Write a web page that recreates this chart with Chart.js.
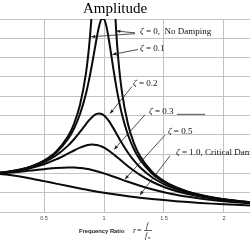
<!DOCTYPE html>
<html><head><meta charset="utf-8">
<script src="https://cdn.jsdelivr.net/npm/chart.js@4/dist/chart.umd.min.js"></script>
<style>html,body{margin:0;padding:0;background:#fff}</style>
</head><body><canvas id="c" width="250" height="250"></canvas>
<script>
// ---- data (frequency ratio r vs amplitude) ----
const rFine = [0.13,0.2,0.3,0.4,0.5,0.6,0.7,0.75,0.8,0.85,0.88,0.9,0.92,0.94,0.96,0.98,1.0,1.02,1.04,1.06,1.08,1.1,1.12,1.15,1.2,1.25,1.3,1.4,1.5,1.6,1.7,1.8,1.9,2.0,2.1,2.22];
const amp01 = [1.017,1.041,1.097,1.185,1.322,1.536,1.891,2.162,2.538,3.073,3.495,3.821,4.172,4.522,4.822,5.001,5.0,4.809,4.476,4.075,3.668,3.288,2.950,2.525,1.995,1.625,1.356,1.0,0.778,0.628,0.521,0.441,0.379,0.330,0.291,0.253];
const amp02 = [1.016,1.038,1.090,1.170,1.288,1.463,1.719,1.885,2.076,2.279,2.392,2.457,2.508,2.541,2.552,2.538,2.5,2.439,2.359,2.264,2.160,2.051,1.941,1.780,1.536,1.329,1.157,0.900,0.721,0.593,0.498,0.425,0.368,0.322,0.285,0.248];
const amp03 = [1.014,1.034,1.078,1.145,1.238,1.362,1.514,1.593,1.667,1.722,1.742,1.747,1.745,1.737,1.720,1.697,1.667,1.630,1.589,1.543,1.495,1.444,1.392,1.313,1.185,1.067,0.960,0.784,0.649,0.546,0.466,0.402,0.351,0.310,0.275,0.241];
const rCoarse = [0.13,0.2,0.3,0.4,0.5,0.6,0.7,0.75,0.8,0.85,0.9,1.0,1.1,1.2,1.3,1.4,1.5,1.6,1.7,1.8,1.9,2.0,2.1,2.22];
const amp05 = [1.008,1.020,1.044,1.075,1.109,1.140,1.155,1.152,1.140,1.118,1.087,1.0,0.893,0.782,0.680,0.589,0.512,0.448,0.393,0.348,0.310,0.277,0.250,0.222];
const amp10 = [0.983,0.962,0.917,0.862,0.8,0.735,0.671,0.64,0.610,0.581,0.552,0.5,0.452,0.410,0.372,0.338,0.308,0.281,0.257,0.236,0.217,0.2,0.185,0.169];
const rLeft0 = [0.13,0.2,0.3,0.4,0.5,0.6,0.7,0.75,0.8,0.85,0.88,0.9,0.92];
const amp0Left = [1.017,1.042,1.099,1.190,1.333,1.563,1.961,2.286,2.778,3.604,4.433,5.263,6.51];
const rRight0 = [1.08,1.1,1.12,1.15,1.2,1.25,1.3,1.4,1.5,1.6,1.7,1.8,1.9,2.0,2.1,2.22];
const amp0Right = [6.01,4.762,3.931,3.100,2.273,1.778,1.449,1.042,0.8,0.641,0.529,0.446,0.383,0.333,0.293,0.255];

const xTickValues = [0.5,1,1.5,2];
const xTickLabels = ['0.5','1','1.5','2'];
const yTickValues = [0,0.5,1,1.5,2,2.5,3,3.5,4,4.5,5];
const titleText = 'Amplitude';
const xTitleText = 'Frequency Ratio';

// annotation labels: text after zeta, label anchor (r, amp), leader start, arrow tips
const annLabels = [' = 0,  No Damping',' = 0.1',' = 0.2',' = 0.3',' = 0.5',' = 1.0, Critical Damping'];
const annLabelPos = [[1.3,4.67],[1.3,4.23],[1.242,3.32],[1.375,2.6],[1.533,2.07],[1.6,1.53]];
const annStart = [[[1.258,4.64],[1.258,4.62]],[[1.283,4.21]],[[1.233,3.25]],[[1.342,2.52]],[[1.508,1.99]],[[1.55,1.454]]];
const annTip = [[[1.103,4.69],[0.893,4.54]],[[1.07,4.08]],[[1.05,2.55]],[[1.085,1.62]],[[1.175,0.85]],[[1.3,0.44]]];

const pts = (xs, ys) => xs.map((v,i)=>({x:v,y:ys[i]}));
const lineDs = (data) => ({data, showLine:true, borderColor:'#0a0a0a', borderWidth:2, pointRadius:0, fill:false, cubicInterpolationMode:'monotone', tension:0.4});

const annot = {
  id:'annot',
  afterDraw(chart){
    const {ctx, scales:{x,y}} = chart;
    const P = (p)=>[x.getPixelForValue(p[0]), y.getPixelForValue(p[1])];
    ctx.save();
    ctx.fillStyle='#000';
    ctx.textAlign='left';
    ctx.textBaseline='alphabetic';
    ctx.font='15px "Liberation Serif"';
    ctx.fillText(titleText, 83, 13);
    // leaders + arrows
    ctx.strokeStyle='#222'; ctx.fillStyle='#222'; ctx.lineWidth=0.8;
    annStart.forEach((starts, i)=>{
      starts.forEach((s, j)=>{
        const [x0,y0]=P(s), [x1,y1]=P(annTip[i][j]);
        ctx.beginPath(); ctx.moveTo(x0,y0); ctx.lineTo(x1,y1); ctx.stroke();
        const a=Math.atan2(y1-y0,x1-x0), L=4, W=1.7;
        ctx.beginPath(); ctx.moveTo(x1,y1);
        ctx.lineTo(x1-L*Math.cos(a)+W*Math.sin(a), y1-L*Math.sin(a)-W*Math.cos(a));
        ctx.lineTo(x1-L*Math.cos(a)-W*Math.sin(a), y1-L*Math.sin(a)+W*Math.cos(a));
        ctx.closePath(); ctx.fill();
      });
    });
    // underline after zeta=0.3
    const u0=P([1.608,2.53]), u1=P([1.842,2.53]);
    ctx.beginPath(); ctx.moveTo(u0[0],u0[1]); ctx.lineTo(u1[0],u1[1]); ctx.stroke();
    // labels
    ctx.fillStyle='#111'; ctx.textBaseline='middle';
    annLabels.forEach((t,i)=>{
      const [lx,ly]=P(annLabelPos[i]);
      ctx.font='italic 9px "Liberation Serif"';
      ctx.fillText('\u03B6', lx, ly);
      const w=ctx.measureText('\u03B6').width;
      ctx.font='9px "Liberation Serif"';
      ctx.fillText(t, lx+w, ly);
    });
    // x axis title
    ctx.fillStyle='#222';
    ctx.font='bold 5.8px "Liberation Sans"';
    ctx.fillText(xTitleText, 79, 231);
    ctx.font='italic 8px "Liberation Serif"';
    ctx.fillText('r', 133, 231);
    ctx.font='8px "Liberation Serif"';
    ctx.fillText('=', 137, 231);
    ctx.font='italic 8px "Liberation Serif"';
    ctx.fillText('f', 146, 226);
    ctx.fillText('f', 145, 236);
    ctx.font='italic 5px "Liberation Serif"';
    ctx.fillText('n', 148, 238);
    ctx.lineWidth=0.7; ctx.strokeStyle='#222';
    ctx.beginPath(); ctx.moveTo(144,230.5); ctx.lineTo(152,230.5); ctx.stroke();
    ctx.restore();
  }
};

new Chart(document.getElementById('c'), {
  type:'scatter',
  data:{datasets:[
    lineDs(pts(rLeft0, amp0Left)),
    lineDs(pts(rRight0, amp0Right)),
    lineDs(pts(rFine, amp01)),
    lineDs(pts(rFine, amp02)),
    lineDs(pts(rFine, amp03)),
    lineDs(pts(rCoarse, amp05)),
    lineDs(pts(rCoarse, amp10))
  ]},
  options:{
    responsive:false, animation:false, devicePixelRatio:1,
    layout:{padding:{top:19,left:0,right:0,bottom:25.4}},
    plugins:{legend:{display:false}, title:{display:false}, tooltip:{enabled:false}},
    scales:{
      x:{type:'linear', min:0.133, max:2.217,
         afterBuildTicks:(s)=>{ s.ticks = xTickValues.map(v=>({value:v})); },
         ticks:{font:{family:'"Liberation Sans"', size:5.5}, color:'#444', padding:3, maxRotation:0,
                callback:(v,i)=>xTickLabels[i]},
         grid:{color:'#c2c2c2', lineWidth:1, drawTicks:false},
         border:{display:true, color:'#c2c2c2'}},
      y:{type:'linear', min:0, max:5,
         afterBuildTicks:(s)=>{ s.ticks = yTickValues.map(v=>({value:v})); },
         ticks:{display:false},
         grid:{color:'#c2c2c2', lineWidth:1, drawTicks:false},
         border:{display:false}}
    }
  },
  plugins:[annot]
});
</script>
</body></html>
